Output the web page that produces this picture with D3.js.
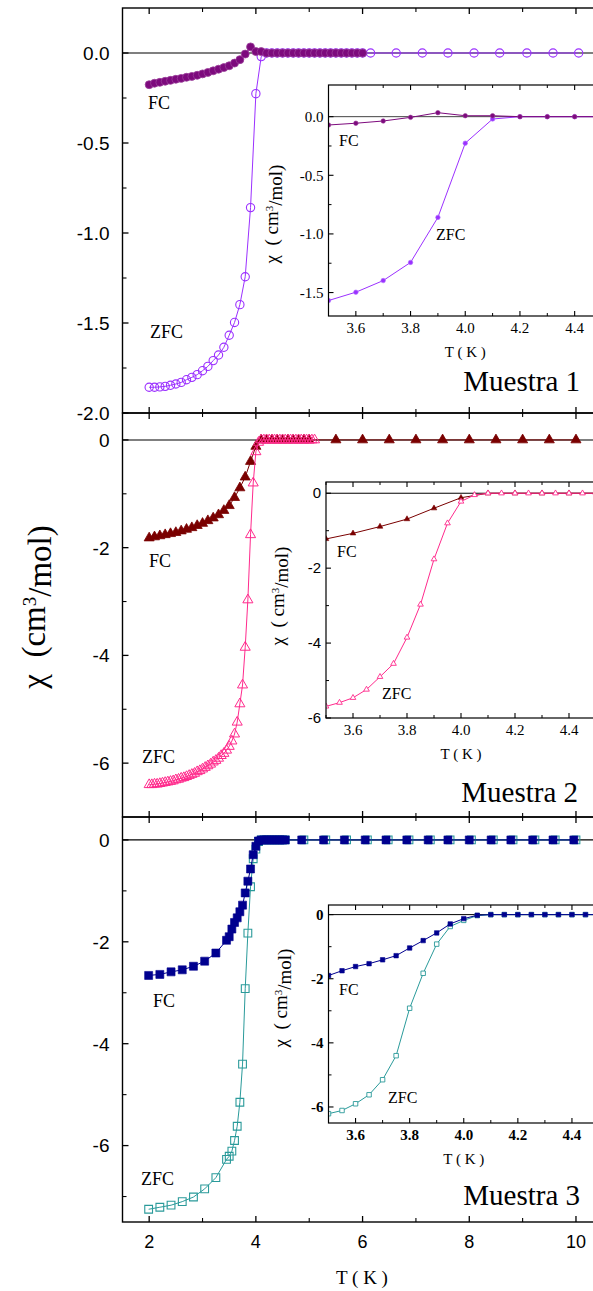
<!DOCTYPE html>
<html><head><meta charset="utf-8">
<script src="https://cdn.jsdelivr.net/npm/d3@7"></script>
<style>html,body{margin:0;padding:0;background:#fff;} svg{display:block;} text{white-space:pre;}</style>
</head><body>
<svg id="chart" width="593" height="1291"></svg>
<script>
// ---------------- DATA ----------------
// Muestra 1
const p1T_fc = [2.0,2.1,2.2,2.3,2.4,2.5,2.6,2.7,2.8,2.9,3.0,3.1,3.2,3.3,3.4,3.5,3.6,3.7,3.8,3.9,4.0,4.1,4.2,4.3,4.4,4.5,4.6,4.7,4.8,4.9,5.0,5.1,5.2,5.3,5.4,5.5,5.6,5.7,5.8,5.9,6.0];
const p1FC = [-0.176,-0.168,-0.163,-0.157,-0.152,-0.146,-0.141,-0.135,-0.130,-0.124,-0.116,-0.108,-0.099,-0.090,-0.081,-0.071,-0.056,-0.037,-0.006,0.034,0.008,0.008,0,0,0,0,0,0,0,0,0,0,0,0,0,0,0,0,0,0,0];
const p1T_zfc = [2.0,2.1,2.2,2.3,2.4,2.5,2.6,2.7,2.8,2.9,3.0,3.1,3.2,3.3,3.4,3.5,3.6,3.7,3.8,3.9,4.0,4.1,4.2,4.3,4.4,4.5,4.6,4.7,4.8,4.9,5.0,5.1,5.2,5.3,5.4,5.5,5.6,5.7,5.8,5.9,6.0,6.15,6.63,7.12,7.6,8.09,8.57,9.08,9.57,10.05];
const p1ZFC = [-1.857,-1.857,-1.855,-1.852,-1.846,-1.839,-1.830,-1.815,-1.802,-1.787,-1.765,-1.741,-1.709,-1.678,-1.635,-1.568,-1.497,-1.398,-1.243,-0.859,-0.226,-0.020,0,0,0,0,0,0,0,0,0,0,0,0,0,0,0,0,0,0,0,0,0,0,0,0,0,0,0,0];
// Muestra 2
const p2T_fc = [2.0,2.1,2.2,2.3,2.4,2.5,2.6,2.7,2.8,2.9,3.0,3.1,3.2,3.3,3.4,3.5,3.6,3.7,3.8,3.9,4.0,4.1,4.2,4.3,4.4,4.5,4.6,4.7,4.8,4.9,5.0,5.5,6.0,6.5,7.0,7.5,8.0,8.5,9.0,9.5,10.0];
const p2FC = [-1.82,-1.80,-1.78,-1.76,-1.74,-1.72,-1.69,-1.66,-1.63,-1.59,-1.55,-1.50,-1.45,-1.39,-1.31,-1.22,-1.07,-0.89,-0.69,-0.40,-0.12,0,0,0,0,0,0,0,0,0,0,0,0,0,0,0,0,0,0,0,0];
const p2T_zfc = [2.00,2.05,2.10,2.15,2.20,2.25,2.30,2.35,2.40,2.45,2.50,2.55,2.60,2.65,2.70,2.75,2.80,2.85,2.90,2.95,3.00,3.05,3.10,3.15,3.20,3.25,3.30,3.35,3.40,3.45,3.50,3.55,3.60,3.65,3.70,3.75,3.80,3.85,3.90,3.95,4.00,4.05,4.10,4.15,4.20,4.25,4.30,4.35,4.40,4.45,4.50,4.55,4.60,4.65,4.70,4.75,4.80,4.85,4.90,4.95,5.00,5.05,5.10];
const p2ZFC = [-6.40,-6.40,-6.39,-6.39,-6.38,-6.37,-6.36,-6.35,-6.34,-6.33,-6.31,-6.30,-6.28,-6.27,-6.25,-6.23,-6.21,-6.19,-6.16,-6.14,-6.11,-6.08,-6.05,-6.02,-5.98,-5.95,-5.91,-5.86,-5.82,-5.76,-5.69,-5.59,-5.46,-5.24,-4.90,-4.55,-3.85,-2.97,-1.76,-0.80,-0.22,-0.045,0,0,0,0,0,0,0,0,0,0,0,0,0,0,0,0,0,0,0,0,0];
// Muestra 3
const p3T_fc = [1.99,2.20,2.41,2.62,2.83,3.04,3.25,3.45,3.50,3.55,3.60,3.65,3.70,3.75,3.80,3.85,3.90,3.95,4.00,4.05,4.10,4.15,4.20,4.25,4.30,4.35,4.40,4.45,4.50,4.55,4.86,5.27,5.66,6.05,6.44,6.83,7.23,7.60,8.00,8.41,8.78,9.19,9.57,9.96];
const p3FC = [-2.66,-2.64,-2.59,-2.55,-2.48,-2.38,-2.22,-1.97,-1.90,-1.75,-1.62,-1.53,-1.41,-1.28,-1.04,-0.81,-0.57,-0.29,-0.125,-0.02,0,0,0,0,0,0,0,0,0,0,0,0,0,0,0,0,0,0,0,0,0,0,0,0];
const p3T_zfc = [1.99,2.20,2.41,2.62,2.83,3.04,3.25,3.45,3.50,3.55,3.60,3.65,3.70,3.75,3.80,3.85,3.90,3.95,4.00,4.05,4.10,4.15,4.20,4.25,4.30,4.35,4.40,4.45,4.50,4.55,4.90,5.31,5.70,6.09,6.48,6.87,7.27,7.64,8.04,8.45,8.82,9.23,9.61,10.00];
const p3ZFC = [-7.25,-7.21,-7.17,-7.10,-7.01,-6.85,-6.63,-6.27,-6.21,-6.11,-5.90,-5.62,-5.15,-4.40,-2.92,-1.83,-0.92,-0.37,-0.18,-0.03,0,0,0,0,0,0,0,0,0,0,0,0,0,0,0,0,0,0,0,0,0,0,0,0];

// Tick values and labels
const mainXTicks = [2,4,6,8,10];
const mainXTickLabels = ["2","4","6","8","10"];
const mainXMinor = [3,5,7,9];
const p1YTicks = [0,-0.5,-1.0,-1.5,-2.0];
const p1YTickLabels = ["0.0","-0.5","-1.0","-1.5","-2.0"];
const p1YMinor = [-0.25,-0.75,-1.25,-1.75];
const p2YTicks = [0,-2,-4,-6];
const p2YTickLabels = ["0","-2","-4","-6"];
const p2YMinor = [-1,-3,-5];
const p3YTicks = [0,-2,-4,-6];
const p3YTickLabels = ["0","-2","-4","-6"];
const p3YMinor = [-1,-3,-5,-7];
const insXTicks = [3.6,3.8,4.0,4.2,4.4];
const insXTickLabels = ["3.6","3.8","4.0","4.2","4.4"];
const insXMinor = [3.5,3.7,3.9,4.1,4.3,4.5];
const i1YTicks = [0,-0.5,-1.0,-1.5];
const i1YTickLabels = ["0.0","-0.5","-1.0","-1.5"];
const i1YMinor = [-0.25,-0.75,-1.25];
const i2YTicks = [0,-2,-4,-6];
const i2YTickLabels = ["0","-2","-4","-6"];
const i2YMinor = [-1,-3,-5];
const i3YTicks = [0,-2,-4,-6];
const i3YTickLabels = ["0","-2","-4","-6"];
const i3YMinor = [-1,-3,-5];

// ---------------- DRAWING ----------------
const W = 593, H = 1291;
const SERIF = "'Liberation Serif','Times New Roman',serif";
const SANS = "'Liberation Sans',Arial,sans-serif";
const svg = d3.select("#chart");
svg.append("rect").attr("width", W).attr("height", H).attr("fill", "#fff");
const defs = svg.append("defs");

const X0 = 122.5;
const xMain = d3.scaleLinear().domain([1.5, 10.5]).range([X0, X0 + 9 * 53.35]);

function zip(T, V) { return T.map((t, i) => [t, V[i]]); }

function drawSeries(g, sx, sy, s) {
  const data = zip(s.T, s.V);
  g.append("path").datum(data)
    .attr("fill", "none").attr("stroke", s.line).attr("stroke-width", s.lw || 1)
    .attr("d", d3.line().x(d => sx(d[0])).y(d => sy(d[1])));
  const sym = d3.symbol().type(s.shape).size(s.size);
  g.selectAll(null).data(data).join("path")
    .attr("transform", d => `translate(${sx(d[0])},${sy(d[1])})`)
    .attr("d", sym)
    .attr("fill", s.fill).attr("stroke", s.stroke).attr("stroke-width", s.sw || 1);
}

function ticksX(g, sx, vals, y, len, sw) {
  g.selectAll(null).data(vals).join("line")
    .attr("x1", d => sx(d)).attr("x2", d => sx(d))
    .attr("y1", y).attr("y2", y + len)
    .attr("stroke", "#000").attr("stroke-width", sw);
}
function ticksY(g, sy, vals, x, len, sw) {
  g.selectAll(null).data(vals).join("line")
    .attr("y1", d => sy(d)).attr("y2", d => sy(d))
    .attr("x1", x).attr("x2", x + len)
    .attr("stroke", "#000").attr("stroke-width", sw);
}

let clipId = 0;
function panel(cfg) {
  const sy = d3.scaleLinear().domain(cfg.yDomain).range([cfg.bottom, cfg.top]);
  const g = svg.append("g");
  const id = "clip" + (clipId++);
  defs.append("clipPath").attr("id", id).append("rect")
    .attr("x", X0).attr("y", cfg.top).attr("width", W - X0).attr("height", cfg.bottom - cfg.top);
  const right = xMain(10.5);
  // zero line
  g.append("line").attr("x1", X0).attr("x2", right).attr("y1", sy(0)).attr("y2", sy(0))
    .attr("stroke", "#000").attr("stroke-width", 1.1);
  const dg = g.append("g").attr("clip-path", `url(#${id})`);
  cfg.series.forEach(s => drawSeries(dg, xMain, sy, s));
  // frame
  g.append("rect").attr("x", X0).attr("y", cfg.top).attr("width", right - X0).attr("height", cfg.bottom - cfg.top)
    .attr("fill", "none").attr("stroke", "#000").attr("stroke-width", 1.4);
  ticksX(g, xMain, mainXTicks, cfg.top, 6, 1.3);
  ticksX(g, xMain, mainXMinor, cfg.top, 4, 1.1);
  ticksX(g, xMain, mainXTicks, cfg.bottom, -6, 1.3);
  ticksX(g, xMain, mainXMinor, cfg.bottom, -4, 1.1);
  ticksY(g, sy, cfg.yTicks, X0, 6, 1.3);
  ticksY(g, sy, cfg.yMinor, X0, 4, 1.1);
  g.selectAll(null).data(cfg.yTicks).join("text")
    .attr("x", X0 - 13).attr("y", d => sy(d)).attr("dy", "0.36em")
    .attr("text-anchor", "end").attr("font-family", SANS).attr("font-size", 19)
    .text((d, i) => cfg.yTickLabels[i]);
  // labels
  cfg.texts.forEach(t => {
    g.append("text").attr("x", t.x).attr("y", t.y).attr("font-family", SERIF)
      .attr("font-size", t.size).attr("text-anchor", t.anchor || "start").attr("fill", "#000").text(t.s);
  });
  if (cfg.inset) inset(cfg.inset);
}

function inset(c) {
  const sx = d3.scaleLinear().domain([3.5, 4.5]).range([c.left, c.right]);
  const sy = d3.scaleLinear().domain(c.yDomain).range([c.bottom, c.top]);
  const g = svg.append("g");
  const id = "clip" + (clipId++);
  defs.append("clipPath").attr("id", id).append("rect")
    .attr("x", c.left).attr("y", c.top).attr("width", W - c.left).attr("height", c.bottom - c.top);
  g.append("rect").attr("x", c.left).attr("y", c.top).attr("width", W - c.left + 20).attr("height", c.bottom - c.top)
    .attr("fill", "#fff");
  g.append("line").attr("x1", c.left).attr("x2", W + 10).attr("y1", sy(0)).attr("y2", sy(0))
    .attr("stroke", c.zeroColor).attr("stroke-width", 1);
  const dg = g.append("g").attr("clip-path", `url(#${id})`);
  c.series.forEach(s => drawSeries(dg, sx, sy, s));
  g.append("rect").attr("x", c.left).attr("y", c.top).attr("width", W - c.left + 20).attr("height", c.bottom - c.top)
    .attr("fill", "none").attr("stroke", "#000").attr("stroke-width", 1.2);
  ticksX(g, sx, insXTicks, c.top, 5, 1.1);
  ticksX(g, sx, insXMinor, c.top, 3, 1);
  ticksX(g, sx, insXTicks, c.bottom, -5, 1.1);
  ticksX(g, sx, insXMinor, c.bottom, -3, 1);
  ticksY(g, sy, c.yTicks, c.left, 5, 1.1);
  ticksY(g, sy, c.yMinor, c.left, 3, 1);
  g.selectAll(null).data(c.yTicks).join("text")
    .attr("x", c.left - 5).attr("y", d => sy(d)).attr("dy", "0.35em")
    .attr("text-anchor", "end").attr("font-family", c.yFont).attr("font-size", c.yFontSize)
    .attr("font-weight", c.weight)
    .text((d, i) => c.yTickLabels[i]);
  g.selectAll(null).data(insXTicks).join("text")
    .attr("x", d => sx(d)).attr("y", c.bottom + 17)
    .attr("text-anchor", "middle").attr("font-family", SERIF).attr("font-size", c.xFontSize)
    .attr("font-weight", c.weight)
    .text((d, i) => insXTickLabels[i]);
  g.append("text").attr("x", sx(4.0)).attr("y", c.bottom + 41).attr("text-anchor", "middle")
    .attr("font-family", SERIF).attr("font-size", 15).text("T ( K )");
  // rotated y label
  const yl = g.append("text").attr("transform", `translate(${c.ylx},${c.yly}) rotate(-90)`)
    .attr("text-anchor", "middle").attr("font-family", SERIF).attr("font-size", 19);
  yl.append("tspan").text("χ  ( cm");
  yl.append("tspan").attr("dy", "-0.45em").attr("font-size", 11).text("3");
  yl.append("tspan").attr("dy", "0.45em").text("/mol)");
  c.texts.forEach(t => {
    g.append("text").attr("x", t.x).attr("y", t.y).attr("font-family", SERIF)
      .attr("font-size", 16).text(t.s);
  });
}

const C1fc = "#7d0a7d", C1z = "#9b30ff";
const C2fc = "#7a0000", C2z = "#ff2a8c";
const C3fc = "#00008f", C3z = "#2a9a9a";

// Panel 1
panel({
  yDomain: [-2.0, 0.25], top: 8, bottom: 413,
  yTicks: p1YTicks, yTickLabels: p1YTickLabels, yMinor: p1YMinor,
  series: [
    {T: p1T_zfc, V: p1ZFC, line: C1z, shape: d3.symbolCircle, size: 54, fill: "none", stroke: C1z, sw: 1.1},
    {T: p1T_fc, V: p1FC, line: C1fc, shape: d3.symbolCircle, size: 50, fill: C1fc, stroke: "#9a3e9a", sw: 0.8}
  ],
  texts: [
    {x: 148, y: 109, s: "FC", size: 18},
    {x: 150, y: 338, s: "ZFC", size: 18},
    {x: 580, y: 391, s: "Muestra 1", size: 29, anchor: "end"}
  ],
  inset: {
    left: 328.5, right: 602, top: 85, bottom: 316, yDomain: [-1.7, 0.27],
    yTicks: i1YTicks, yTickLabels: i1YTickLabels, yMinor: i1YMinor,
    yFont: SERIF, yFontSize: 15, xFontSize: 15, weight: "normal", zeroColor: "#444",
    ylx: 278, yly: 214,
    series: [
      {T: p1T_zfc, V: p1ZFC, line: C1z, shape: d3.symbolCircle, size: 16, fill: C1z, stroke: "#b070ff", sw: 0.6},
      {T: p1T_fc, V: p1FC, line: C1fc, shape: d3.symbolCircle, size: 16, fill: C1fc, stroke: "#9a3e9a", sw: 0.6}
    ],
    texts: [{x: 339, y: 146, s: "FC"}, {x: 436, y: 240, s: "ZFC"}]
  }
});

// Panel 2
panel({
  yDomain: [-7, 0.5], top: 413, bottom: 817,
  yTicks: p2YTicks, yTickLabels: p2YTickLabels, yMinor: p2YMinor,
  series: [
    {T: p2T_fc, V: p2FC, line: C2fc, shape: d3.symbolTriangle, size: 44, fill: C2fc, stroke: C2fc, sw: 0.8},
    {T: p2T_zfc, V: p2ZFC, line: C2z, shape: d3.symbolTriangle, size: 44, fill: "none", stroke: C2z, sw: 1}
  ],
  texts: [
    {x: 149, y: 567, s: "FC", size: 18},
    {x: 142, y: 763, s: "ZFC", size: 18},
    {x: 578, y: 802, s: "Muestra 2", size: 29, anchor: "end"}
  ],
  inset: {
    left: 326, right: 596, top: 482, bottom: 718, yDomain: [-6, 0.3],
    yTicks: i2YTicks, yTickLabels: i2YTickLabels, yMinor: i2YMinor,
    yFont: SANS, yFontSize: 15, xFontSize: 15, weight: "normal", zeroColor: "#000",
    ylx: 284, yly: 596,
    series: [
      {T: p2T_fc, V: p2FC, line: C2fc, shape: d3.symbolTriangle, size: 14, fill: C2fc, stroke: C2fc, sw: 0.6},
      {T: p2T_zfc, V: p2ZFC, line: C2z, shape: d3.symbolTriangle, size: 14, fill: "#fff", stroke: C2z, sw: 0.9}
    ],
    texts: [{x: 337, y: 557, s: "FC"}, {x: 382, y: 699, s: "ZFC"}]
  }
});

// Panel 3
panel({
  yDomain: [-7.5, 0.45], top: 817, bottom: 1222,
  yTicks: p3YTicks, yTickLabels: p3YTickLabels, yMinor: p3YMinor,
  series: [
    {T: p3T_zfc, V: p3ZFC, line: C3z, shape: d3.symbolSquare, size: 60, fill: "none", stroke: C3z, sw: 1.1},
    {T: p3T_fc, V: p3FC, line: C3fc, shape: d3.symbolSquare, size: 64, fill: C3fc, stroke: C3fc, sw: 0.6}
  ],
  texts: [
    {x: 153, y: 1007, s: "FC", size: 18},
    {x: 141, y: 1185, s: "ZFC", size: 18},
    {x: 580, y: 1205, s: "Muestra 3", size: 29, anchor: "end"}
  ],
  inset: {
    left: 328.5, right: 599, top: 905, bottom: 1123, yDomain: [-6.5, 0.3],
    yTicks: i3YTicks, yTickLabels: i3YTickLabels, yMinor: i3YMinor,
    yFont: SERIF, yFontSize: 15, xFontSize: 15, weight: "bold", zeroColor: "#000",
    ylx: 287, yly: 998,
    series: [
      {T: p3T_zfc, V: p3ZFC, line: C3z, shape: d3.symbolSquare, size: 20, fill: "#fff", stroke: C3z, sw: 0.9},
      {T: p3T_fc, V: p3FC, line: C3fc, shape: d3.symbolSquare, size: 20, fill: C3fc, stroke: C3fc, sw: 0.6}
    ],
    texts: [{x: 339, y: 995, s: "FC"}, {x: 388, y: 1103, s: "ZFC"}]
  }
});

// Main x tick labels (bottom panel)
svg.append("g").selectAll(null).data(mainXTicks).join("text")
  .attr("x", d => xMain(d)).attr("y", 1248).attr("text-anchor", "middle")
  .attr("font-family", SANS).attr("font-size", 18)
  .text((d, i) => mainXTickLabels[i]);
svg.append("text").attr("x", 362).attr("y", 1284).attr("text-anchor", "middle")
  .attr("font-family", SERIF).attr("font-size", 19).text("T ( K )");

// Main y label
const ylab = svg.append("text").attr("transform", "translate(45,607) rotate(-90)")
  .attr("text-anchor", "middle").attr("font-family", SERIF).attr("font-size", 33);
ylab.append("tspan").text("χ  (cm");
ylab.append("tspan").attr("dy", "-0.45em").attr("font-size", 19).text("3");
ylab.append("tspan").attr("dy", "0.45em").text("/mol)");
</script>
</body></html>
